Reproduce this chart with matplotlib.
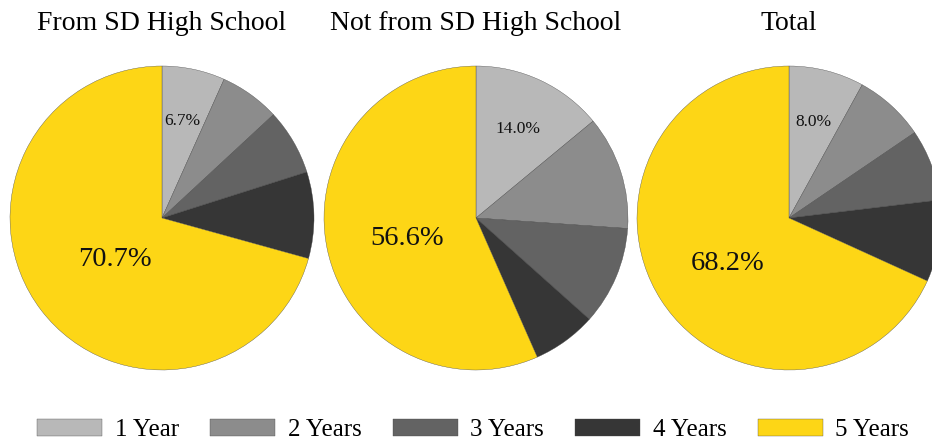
import matplotlib
matplotlib.use("Agg")
import matplotlib.pyplot as plt
import numpy as np

plt.rcParams['font.family'] = ['Liberation Serif', 'DejaVu Serif']

categories = ["1 Year", "2 Years", "3 Years", "4 Years", "5 Years"]
titles = ["From SD High School", "Not from SD High School", "Total"]
from_sd = [6.7, 6.4, 7.0, 9.2, 70.7]
not_from_sd = [14.0, 12.1, 10.5, 6.8, 56.6]
total = [8.0, 7.5, 7.6, 8.7, 68.2]
series = [from_sd, not_from_sd, total]
colors = ["#b8b8b8", "#8c8c8c", "#636363", "#363636", "#fdd616"]

W, H = 932, 443
fig = plt.figure(figsize=(W / 100, H / 100), dpi=100)

centers_x = [162, 476, 789]
cy = 218
R = 152
big_r = [0.39, 0.46, 0.48]

wedges_first = None
for i, (vals, cx, title) in enumerate(zip(series, centers_x, titles)):
    ax = fig.add_axes([(cx - R) / W, (H - cy - R) / H, 2 * R / W, 2 * R / H])
    wedges, _ = ax.pie(vals, colors=colors, startangle=90, counterclock=False,
                       wedgeprops=dict(edgecolor="#444444", linewidth=0.25))
    ax.set_xlim(-1, 1)
    ax.set_ylim(-1, 1)
    ax.set_aspect("equal")
    ax.axis("off")
    for k, r, fs in ((0, 0.65, 12.5), (4, big_r[i], 20.5)):
        w = wedges[k]
        ang = np.deg2rad((w.theta1 + w.theta2) / 2)
        ax.text(r * np.cos(ang), r * np.sin(ang) - (0.04 if k == 4 else 0), f"{vals[k]:.1f}%",
                ha="center", va="center", fontsize=fs, color="#111111")
    fig.text(cx / W, 1 - 23 / H, title, ha="center", va="center", fontsize=20)
    if wedges_first is None:
        wedges_first = wedges

fig.legend(wedges_first, categories, loc="center", bbox_to_anchor=(473 / W, 1 - 430 / H),
           ncol=5, frameon=False, fontsize=18, handlelength=2.6, handleheight=0.65,
           handletextpad=0.5, columnspacing=1.25)

fig.savefig("out.png", dpi=100)
